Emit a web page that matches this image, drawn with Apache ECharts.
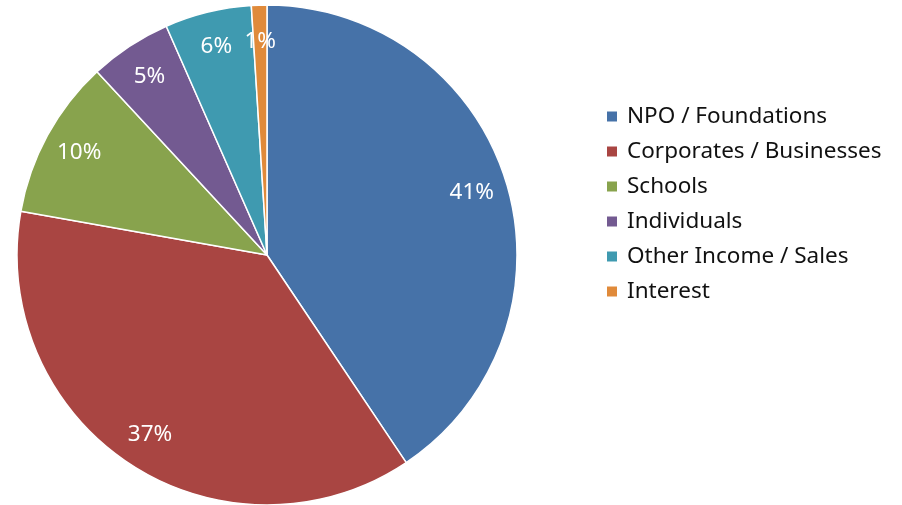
<!DOCTYPE html>
<html>
<head>
<meta charset="utf-8">
<script src="https://cdn.jsdelivr.net/npm/echarts@6/dist/echarts.min.js"></script>
<style>
  html, body { margin: 0; padding: 0; background: #fff; }
  #main { width: 902px; height: 505px; }
</style>
</head>
<body>
<div id="main"></div>
<script>
var categories = ['NPO / Foundations', 'Corporates / Businesses', 'Schools', 'Individuals', 'Other Income / Sales', 'Interest'];
var shares = [40.6, 37.2, 10.3, 5.3, 5.6, 1.0];
var colors = ['#4672A8', '#A94542', '#88A34D', '#735A91', '#3F9AB0', '#E08A3A'];

function buildData() {
    var out = [];
    for (var i = 0; i < categories.length; i++) {
        out.push({ name: categories[i], value: shares[i] });
    }
    return out;
}

var myChart = echarts.init(document.getElementById('main'));
var font = '"Noto Sans", sans-serif';

option = {
    animation: false,
    color: colors,
    legend: {
        orient: 'vertical',
        left: 600,
        top: 100,
        itemWidth: 12,
        itemHeight: 12,
        itemGap: 12,
        icon: 'rect',
        data: categories,
        textStyle: { fontFamily: font, fontSize: 22.5, color: '#111', lineHeight: 22, padding: [0, 0, 0, 4] }
    },
    series: [{
        name: 'Income',
        type: 'pie',
        center: [267, 255],
        radius: 250,
        startAngle: 90,
        clockwise: true,
        label: { show: false },
        labelLine: { show: false },
        itemStyle: { borderColor: '#fff', borderWidth: 1.5 },
        emphasis: { disabled: true },
        data: buildData()
    }, {
        name: 'labels',
        type: 'pie',
        center: [267, 255],
        radius: [172, 250],
        startAngle: 90,
        clockwise: true,
        silent: true,
        itemStyle: { color: 'transparent' },
        label: {
            show: true,
            position: 'inside',
            color: '#fff',
            fontFamily: font,
            fontSize: 22.5,
            formatter: function (p) { return Math.round(p.percent) + '%'; }
        },
        labelLine: { show: false },
        emphasis: { disabled: true },
        data: buildData()
    }]
};

myChart.setOption(option);
</script>
</body>
</html>
